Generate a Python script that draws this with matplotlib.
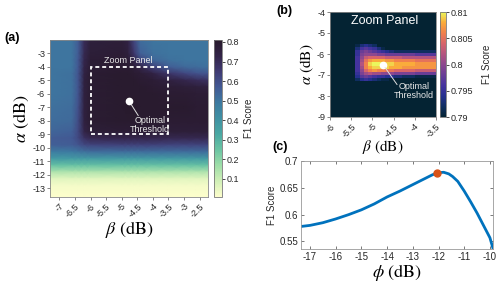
import numpy as np
import matplotlib
matplotlib.use("Agg")
import matplotlib.pyplot as plt
from matplotlib.colors import LinearSegmentedColormap
from matplotlib.patches import Rectangle

plt.rcParams['font.family'] = ['Liberation Sans', 'DejaVu Sans']
plt.rcParams['mathtext.fontset'] = 'stix'

# ---------------- data: panel (a) ----------------
beta_a = [-7.3, -6.6, -6.4, -6.2, -6.0, -5.0, -4.8, -4.6, -4.4, -4.0, -3.5, -3.0, -2.6, -2.23]
alpha_a = [-2.0, -3.0, -3.5, -4.0, -4.5, -5.0, -5.5, -6.0, -7.0, -8.0, -8.8, -9.3, -9.8,
           -10.3, -10.8, -11.3, -11.8, -12.3, -12.8, -13.65]
f1_a = [
    [0.50, 0.50, 0.56, 0.70, 0.76, 0.77, 0.74, 0.62, 0.52, 0.50, 0.50, 0.50, 0.50, 0.50],
    [0.50, 0.50, 0.56, 0.71, 0.77, 0.78, 0.76, 0.66, 0.55, 0.51, 0.50, 0.50, 0.50, 0.50],
    [0.50, 0.50, 0.57, 0.72, 0.78, 0.79, 0.78, 0.72, 0.63, 0.54, 0.51, 0.50, 0.50, 0.50],
    [0.50, 0.50, 0.57, 0.73, 0.78, 0.79, 0.79, 0.77, 0.73, 0.64, 0.56, 0.53, 0.52, 0.51],
    [0.50, 0.51, 0.58, 0.74, 0.79, 0.80, 0.80, 0.79, 0.78, 0.74, 0.67, 0.62, 0.59, 0.58],
    [0.50, 0.51, 0.58, 0.75, 0.79, 0.80, 0.80, 0.80, 0.79, 0.78, 0.75, 0.72, 0.70, 0.68],
    [0.50, 0.51, 0.58, 0.75, 0.79, 0.80, 0.80, 0.80, 0.80, 0.79, 0.78, 0.77, 0.76, 0.75],
    [0.50, 0.51, 0.58, 0.75, 0.79, 0.80, 0.80, 0.80, 0.80, 0.80, 0.79, 0.79, 0.78, 0.78],
    [0.51, 0.52, 0.59, 0.75, 0.79, 0.80, 0.81, 0.81, 0.80, 0.80, 0.80, 0.80, 0.79, 0.79],
    [0.52, 0.53, 0.60, 0.75, 0.79, 0.80, 0.80, 0.80, 0.80, 0.80, 0.79, 0.79, 0.79, 0.79],
    [0.54, 0.55, 0.61, 0.73, 0.77, 0.78, 0.78, 0.78, 0.78, 0.78, 0.77, 0.77, 0.77, 0.77],
    [0.56, 0.57, 0.61, 0.68, 0.71, 0.72, 0.72, 0.72, 0.72, 0.72, 0.71, 0.71, 0.71, 0.71],
    [0.55, 0.56, 0.58, 0.61, 0.62, 0.63, 0.63, 0.63, 0.63, 0.63, 0.62, 0.62, 0.62, 0.62],
    [0.48, 0.49, 0.50, 0.51, 0.52, 0.52, 0.52, 0.52, 0.52, 0.52, 0.52, 0.52, 0.52, 0.52],
    [0.38, 0.38, 0.38, 0.38, 0.38, 0.38, 0.38, 0.38, 0.38, 0.38, 0.38, 0.38, 0.38, 0.38],
    [0.26, 0.26, 0.26, 0.26, 0.26, 0.26, 0.26, 0.26, 0.26, 0.26, 0.26, 0.26, 0.26, 0.26],
    [0.14, 0.14, 0.14, 0.14, 0.14, 0.14, 0.14, 0.14, 0.14, 0.14, 0.14, 0.14, 0.14, 0.14],
    [0.06, 0.06, 0.06, 0.06, 0.06, 0.06, 0.06, 0.06, 0.06, 0.06, 0.06, 0.06, 0.06, 0.06],
    [0.025, 0.025, 0.025, 0.025, 0.025, 0.025, 0.025, 0.025, 0.025, 0.025, 0.025, 0.025, 0.025, 0.025],
    [0.01, 0.01, 0.01, 0.01, 0.01, 0.01, 0.01, 0.01, 0.01, 0.01, 0.01, 0.01, 0.01, 0.01],
]
a_xticks = [-7, -6.5, -6, -5.5, -5, -4.5, -4, -3.5, -3, -2.5]
a_yticks = [-3, -4, -5, -6, -7, -8, -9, -10, -11, -12, -13]
a_cticks = [0.1, 0.2, 0.3, 0.4, 0.5, 0.6, 0.7, 0.8]
zoom_box = (-6.0, -9.0, -3.5, -4.0)   # beta0, alpha0, beta1, alpha1
optimum = (-4.75, -6.5)

# ---------------- data: panel (b) ----------------
beta_b_edges = [-6.0, -5.4, -5.3, -5.2, -5.1, -5.0, -4.9, -4.8, -4.7, -4.6, -4.5, -4.3, -4.0, -3.5]
alpha_b_edges = [-4.0, -5.5, -5.65, -5.8, -5.95, -6.1, -6.25, -6.4, -6.55, -6.7, -6.85,
                 -7.0, -7.15, -7.3, -9.0]
f1_b = [
    [.790, .790, .790, .790, .790, .790, .790, .790, .790, .790, .790, .790, .790],
    [.790, .791, .793, .794, .793, .792, .790, .790, .790, .790, .790, .790, .790],
    [.790, .793, .796, .797, .796, .795, .793, .791, .790, .790, .790, .790, .790],
    [.790, .795, .798, .799, .798, .797, .796, .795, .794, .793, .792, .792, .792],
    [.790, .795, .799, .800, .800, .800, .799, .799, .798, .798, .798, .798, .797],
    [.790, .796, .800, .803, .804, .804, .804, .804, .803, .803, .803, .802, .802],
    [.790, .796, .801, .805, .807, .808, .808, .808, .807, .807, .806, .806, .805],
    [.790, .796, .802, .806, .809, .810, .810, .810, .809, .809, .808, .808, .807],
    [.790, .796, .801, .806, .808, .809, .809, .809, .809, .808, .808, .807, .807],
    [.790, .796, .800, .804, .806, .807, .806, .806, .805, .805, .804, .804, .803],
    [.790, .795, .799, .801, .802, .801, .801, .800, .800, .800, .799, .799, .798],
    [.790, .794, .797, .798, .797, .796, .795, .795, .794, .794, .793, .792, .791],
    [.790, .792, .794, .795, .794, .793, .792, .791, .791, .790, .790, .790, .790],
    [.790, .790, .790, .790, .790, .790, .790, .790, .790, .790, .790, .790, .790],
]
b_xticks = [-6, -5.5, -5, -4.5, -4, -3.5]
b_yticks = [-4, -5, -6, -7, -8, -9]
b_cticks = [0.79, 0.795, 0.8, 0.805, 0.81]

# ---------------- data: panel (c) ----------------
phi = [-17.35, -17.0, -16.5, -16.0, -15.5, -15.0, -14.5, -14.0, -13.5, -13.0, -12.5, -12.25,
       -12.05, -11.8, -11.6, -11.45, -11.25, -11.0, -10.75, -10.5, -10.25, -10.0, -9.88]
f1_c = [0.578, 0.580, 0.585, 0.592, 0.600, 0.609, 0.620, 0.633, 0.644, 0.656, 0.668, 0.674,
        0.678, 0.679, 0.676, 0.671, 0.662, 0.644, 0.624, 0.603, 0.580, 0.557, 0.537]
phi_opt, f1_opt = -12.05, 0.678
c_xticks = [-17, -16, -15, -14, -13, -12, -11, -10]
c_yticks = [0.55, 0.6, 0.65, 0.7]

# ---------------- colormaps ----------------
deep = LinearSegmentedColormap.from_list('deep', [
    (0.00, (0.992, 0.996, 0.800)),
    (0.10, (0.82, 0.94, 0.72)),
    (0.20, (0.62, 0.87, 0.66)),
    (0.30, (0.42, 0.77, 0.64)),
    (0.40, (0.29, 0.66, 0.64)),
    (0.50, (0.25, 0.57, 0.64)),
    (0.60, (0.24, 0.48, 0.63)),
    (0.70, (0.26, 0.35, 0.58)),
    (0.80, (0.25, 0.23, 0.45)),
    (0.90, (0.20, 0.14, 0.28)),
    (1.00, (0.157, 0.102, 0.173)),
])
thermal = LinearSegmentedColormap.from_list('thermal', [
    (0.00, (0.016, 0.137, 0.200)),
    (0.10, (0.06, 0.18, 0.38)),
    (0.20, (0.15, 0.19, 0.56)),
    (0.30, (0.27, 0.20, 0.62)),
    (0.40, (0.41, 0.24, 0.59)),
    (0.50, (0.55, 0.28, 0.56)),
    (0.60, (0.70, 0.33, 0.50)),
    (0.70, (0.84, 0.39, 0.42)),
    (0.80, (0.94, 0.50, 0.30)),
    (0.90, (0.98, 0.67, 0.23)),
    (1.00, (0.92, 0.97, 0.36)),
])

TC = '#262626'
W, H = 500, 282
fig = plt.figure(figsize=(W / 100, H / 100), dpi=100)

def fx(px):
    return px / W

def fy(py):
    return 1 - py / H

def box(x0, y0, x1, y1):
    return [fx(x0), fy(y1), fx(x1) - fx(x0), fy(y0) - fy(y1)]

label_font = dict(family='STIXGeneral')

# ---------------- panel (a) ----------------
axa = fig.add_axes(box(50, 40, 208, 197))
B, A = np.meshgrid(beta_a, alpha_a)
ma = axa.pcolormesh(B, A, np.array(f1_a), cmap=deep, vmin=0.007, vmax=0.81,
                    shading='gouraud', rasterized=True)
axa.set_xlim(beta_a[0], beta_a[-1])
axa.set_ylim(alpha_a[-1], alpha_a[0])
axa.set_xticks(a_xticks)
axa.set_xticklabels(['%g' % v for v in a_xticks], rotation=45, ha='right',
                    rotation_mode='anchor', fontsize=6.5, color=TC)
axa.set_yticks(a_yticks)
axa.set_yticklabels(['%g' % v for v in a_yticks], fontsize=6.5, color=TC)
axa.tick_params(length=2, width=0.5, color='#555555', pad=1.5)
for s in axa.spines.values():
    s.set_color('#888888')
    s.set_linewidth(0.6)
axa.set_xlabel(r'$\beta$ (dB)', fontsize=13, labelpad=0, **label_font)
axa.set_ylabel(r'$\alpha$ (dB)', fontsize=13, labelpad=1, **label_font)
bx0, by0, bx1, by1 = zoom_box
axa.add_patch(Rectangle((bx0, by0), bx1 - bx0, by1 - by0, fill=False, ec='white',
                        lw=1.3, ls=(0, (2.2, 1.6))))
axa.text((bx0 + bx1) / 2 - 0.05, by1 + 0.15, 'Zoom Panel', color='#e8e8e8', fontsize=6.5,
         ha='center', va='bottom')
axa.plot([optimum[0]], [optimum[1]], 'o', color='white', ms=4.5, mec='white')
axa.plot([optimum[0] + 0.06, optimum[0] + 0.28], [optimum[1] - 0.3, optimum[1] - 1.1],
         color='#e0e0e0', lw=0.7)
axa.text(-4.1, -8.3, 'Optimal\nThreshold', color='#e8e8e8', fontsize=6.5, ha='center',
         va='center', linespacing=0.95)

caxa = fig.add_axes(box(214, 40, 222, 197))
cba = fig.colorbar(ma, cax=caxa, ticks=a_cticks)
cba.ax.set_yticklabels(['%g' % v for v in a_cticks], fontsize=6.5, color=TC)
cba.ax.tick_params(length=2, width=0.5, pad=1.5)
cba.outline.set_edgecolor('#777777')
cba.outline.set_linewidth(0.6)
cba.set_label('F1 Score', fontsize=7, color=TC, labelpad=3)

# ---------------- panel (b) ----------------
axb = fig.add_axes(box(330, 12, 436, 117))
mb = axb.pcolormesh(beta_b_edges, alpha_b_edges, np.array(f1_b), cmap=thermal,
                    vmin=0.79, vmax=0.81, shading='flat', rasterized=True)
axb.set_xlim(-6, -3.5)
axb.set_ylim(-9, -4)
axb.set_xticks(b_xticks)
axb.set_xticklabels(['%g' % v for v in b_xticks], rotation=45, ha='right',
                    rotation_mode='anchor', fontsize=6.5, color=TC)
axb.set_yticks(b_yticks)
axb.set_yticklabels(['%g' % v for v in b_yticks], fontsize=6.5, color=TC)
axb.tick_params(length=2, width=0.5, color='#555555', pad=1.5)
for s in axb.spines.values():
    s.set_color('#888888')
    s.set_linewidth(0.6)
axb.set_xlabel(r'$\beta$ (dB)', fontsize=11, labelpad=-1, **label_font)
axb.set_ylabel(r'$\alpha$ (dB)', fontsize=11, labelpad=1, **label_font)
axb.text(-4.72, -4.45, 'Zoom Panel', color='white', fontsize=9, ha='center', va='center')
axb.plot([optimum[0]], [optimum[1]], 'o', color='white', ms=4.5, mec='white')
axb.plot([optimum[0] + 0.05, optimum[0] + 0.33], [optimum[1] - 0.15, optimum[1] - 0.95],
         color='#e0e0e0', lw=0.7)
axb.text(-4.02, -7.75, 'Optimal\nThreshold', color='#e8e8e8', fontsize=6.5, ha='center',
         va='center', linespacing=0.95)

caxb = fig.add_axes(box(440, 12, 446, 117))
cbb = fig.colorbar(mb, cax=caxb, ticks=b_cticks)
cbb.ax.set_yticklabels(['%g' % v for v in b_cticks], fontsize=6.5, color=TC)
cbb.ax.tick_params(length=2, width=0.5, pad=1.5)
cbb.outline.set_edgecolor('#777777')
cbb.outline.set_linewidth(0.6)
cbb.set_label('F1 Score', fontsize=7, color=TC, labelpad=6)

# ---------------- panel (c) ----------------
axc = fig.add_axes(box(301, 161, 493, 249))
axc.plot(phi, f1_c, color='#0072BD', lw=2.0, solid_capstyle='round')
axc.plot([phi_opt], [f1_opt], 'o', color='#D95319', ms=5, mec='#D95319', zorder=3)
axc.set_xlim(-17.35, -9.88)
axc.set_ylim(0.536, 0.7)
axc.set_xticks(c_xticks)
axc.set_xticklabels(['%g' % v for v in c_xticks], fontsize=7, color=TC)
axc.set_yticks(c_yticks)
axc.set_yticklabels(['%g' % v for v in c_yticks], fontsize=7, color=TC)
axc.tick_params(direction='in', length=2.5, width=0.5, top=True, right=True,
                color='#444444', pad=2)
for s in axc.spines.values():
    s.set_color('#999999')
    s.set_linewidth(0.6)
axc.set_xlabel(r'$\phi$ (dB)', fontsize=13, labelpad=0, **label_font)
axc.set_ylabel('F1 Score', fontsize=7, color=TC, labelpad=2)

# ---------------- panel letters ----------------
fig.text(fx(4), fy(38), '(a)', fontsize=9, fontweight='bold', va='center', ha='left')
fig.text(fx(276), fy(11), '(b)', fontsize=9, fontweight='bold', va='center', ha='left')
fig.text(fx(272), fy(147), '(c)', fontsize=9, fontweight='bold', va='center', ha='left')

fig.savefig('out.png', dpi=100)
